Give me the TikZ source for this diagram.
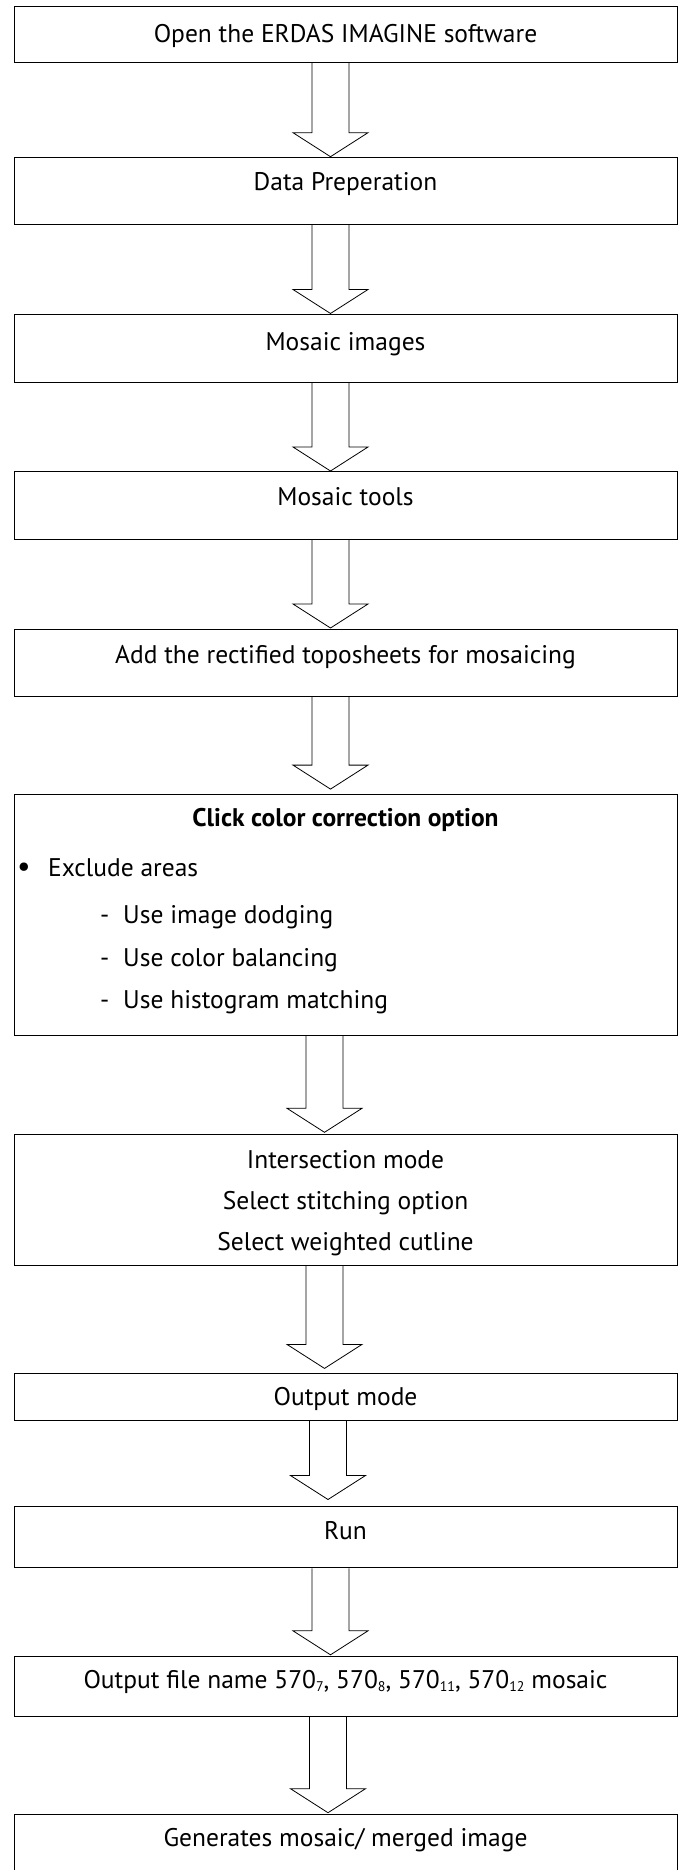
\documentclass[tikz,border=0pt]{standalone}
\usepackage{fontspec}
\setmainfont{PT Sans}
\usetikzlibrary{calc}
\tikzset{
  flowbox/.style={draw=black, line width=0.9pt, minimum width=663pt, inner sep=0pt, anchor=north},
  flowtext/.style={anchor=base, inner sep=0pt, font=\fontsize{25.5}{30}\selectfont},
  lefttext/.style={anchor=base west, inner sep=0pt, font=\fontsize{25.5}{30}\selectfont},
  blockarrow/.style={draw=black, line width=0.8pt, line join=miter},
}
\newcommand\lowidx[1]{\raisebox{-3pt}{\fontsize{14}{14}\selectfont #1}}
% #1 from box, #2 to box, #3 x offset of arrow axis from box centre, #4 gap between tip and target top
\newcommand\flowarrow[4]{%
  \draw[blockarrow]
    ($(#1.south)+(#3-18.5,0)$) --
    ($(#2.north)+(#3-18.5,#4+24)$) --
    ($(#2.north)+(#3-37.5,#4+24)$) --
    ($(#2.north)+(#3,#4)$) --
    ($(#2.north)+(#3+37.5,#4+24)$) --
    ($(#2.north)+(#3+18.5,#4+24)$) --
    ($(#1.south)+(#3+18.5,0)$);}
\begin{document}
\begin{tikzpicture}[x=1pt,y=1pt]
\useasboundingbox (0,0) rectangle (685,-1870);
\clip (0,0) rectangle (685,-1870);
\fill[white] (0,0) rectangle (685,-1870);

% boxes
\node[flowbox, minimum height=56.3pt]  (b1)  at (345.5,-6) {};
\node[flowbox, minimum height=67.5pt]  (b2)  at (345.5,-156.7) {};
\node[flowbox, minimum height=67.7pt]  (b3)  at (345.5,-314) {};
\node[flowbox, minimum height=68.2pt]  (b4)  at (345.5,-471) {};
\node[flowbox, minimum height=67.3pt]  (b5)  at (345.5,-629) {};
\node[flowbox, minimum height=241pt]   (b6)  at (345.5,-793.6) {};
\node[flowbox, minimum height=130.6pt] (b7)  at (345.5,-1134.3) {};
\node[flowbox, minimum height=46.6pt]  (b8)  at (345.5,-1373.4) {};
\node[flowbox, minimum height=61.4pt]  (b9)  at (345.5,-1506) {};
\node[flowbox, minimum height=60.2pt]  (b10) at (345.5,-1655.8) {};
\node[flowbox, minimum height=80pt]    (b11) at (345.5,-1813.7) {};

% texts
\node[flowtext] (t1) at ([yshift=-37pt]b1.north) {Open the ERDAS IMAGINE software};
\node[flowtext] (t2) at ([yshift=-33.5pt]b2.north) {Data Preperation};
\node[flowtext] (t3) at ([yshift=-36.5pt]b3.north) {Mosaic images};
\node[flowtext] (t4) at ([yshift=-34.5pt]b4.north) {Mosaic tools};
\node[flowtext] (t5) at ([yshift=-34pt]b5.north) {Add the rectified toposheets for mosaicing};
\node[flowtext, font=\fontsize{25.5}{30}\selectfont\bfseries] (t6) at ([yshift=-32.5pt]b6.north) {Click color correction option};
\node[lefttext, font=\fontsize{30}{30}\selectfont] (t6b) at (17,-876) {\textbullet};
\node[lefttext] (t6a) at (48,-876) {Exclude areas};
\node[lefttext] (t6c) at (100,-923) {-};
\node[lefttext] (t6d) at (123,-923) {Use image dodging};
\node[lefttext] (t6e) at (100,-966) {-};
\node[lefttext] (t6f) at (123,-966) {Use color balancing};
\node[lefttext] (t6g) at (100,-1008) {-};
\node[lefttext] (t6h) at (123,-1008) {Use histogram matching};
\node[flowtext] (t7a) at ([yshift=-34pt]b7.north) {Intersection mode};
\node[flowtext] (t7b) at ([yshift=-75pt]b7.north) {Select stitching option};
\node[flowtext] (t7c) at ([yshift=-116pt]b7.north) {Select weighted cutline};
\node[flowtext] (t8) at ([yshift=-32pt]b8.north) {Output mode};
\node[flowtext] (t9) at ([yshift=-33.5pt]b9.north) {Run};
\node[flowtext] (t10) at ([yshift=-32.5pt]b10.north) {Output file name 570\lowidx{7}, 570\lowidx{8}, 570\lowidx{11}, 570\lowidx{12} mosaic};
\node[flowtext] (t11) at ([yshift=-32.5pt]b11.north) {Generates mosaic/ merged image};

% arrows
\flowarrow{b1}{b2}{-15}{0}
\flowarrow{b2}{b3}{-15}{0.5}
\flowarrow{b3}{b4}{-15}{0}
\flowarrow{b4}{b5}{-15}{1}
\flowarrow{b5}{b6}{-15}{4.5}
\flowarrow{b6}{b7}{-21}{2}
\flowarrow{b7}{b8}{-21}{5}
\flowarrow{b8}{b9}{-17.5}{6.5}
\flowarrow{b9}{b10}{-15}{1}
\flowarrow{b10}{b11}{-17.5}{1}
\end{tikzpicture}
\end{document}
